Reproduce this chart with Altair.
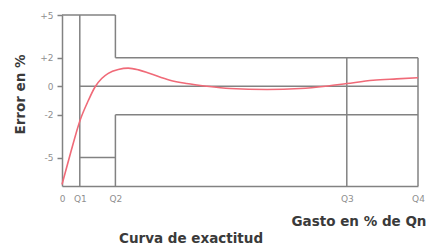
import altair as alt
import pandas as pd

# Accuracy curve (x in % of Qn-scale units: Q1=5, Q2=15, Q3=80, Q4=100)
curve_x = [0, 2.5, 5.06, 7.4, 9.27, 11.15, 13, 15.8, 18.6, 21.5, 24.7, 30.3, 35, 40.6, 47.2, 57.6, 66.9, 74, 80, 87.4, 94, 100]
curve_y = [-6.9, -4.6, -2.4, -1.0, -0.05, 0.54, 0.9, 1.17, 1.27, 1.15, 0.89, 0.42, 0.19, 0.0, -0.16, -0.23, -0.16, 0.0, 0.19, 0.42, 0.52, 0.6]

# Tolerance envelope segments
seg_x = [0, 5, 15, 15, 5, 15, 15, 5, 80, 100]
seg_y = [5, 5, 5, 2, 0, -2, -2, -5, 2, 2]
seg_x2 = [15, 5, 15, 100, 100, 100, 15, 15, 80, 100]
seg_y2 = [5, -7, 2, 2, 0, -2, -7, -5, -7, -7]

x_tick_values = [0, 5, 15, 80, 100]
x_tick_labels = ["0", "Q1", "Q2", "Q3", "Q4"]
y_tick_values = [-5, -2, 0, 2, 5]

FONT = "DejaVu Sans"
GRAY = "#828282"

label_expr = "''"
for v, l in zip(reversed(x_tick_values), reversed(x_tick_labels)):
    label_expr = f"datum.value == {v} ? '{l}' : ({label_expr})"

curve_df = pd.DataFrame({"x": curve_x, "y": curve_y})
seg_df = pd.DataFrame({"x": seg_x, "y": seg_y, "x2": seg_x2, "y2": seg_y2})

xscale = alt.Scale(domain=[0, 100], nice=False, zero=False)
yscale = alt.Scale(domain=[-7, 5], nice=False, zero=False)

xaxis = alt.Axis(
    values=x_tick_values, labelExpr=label_expr, grid=False, ticks=False,
    domainColor=GRAY, domainWidth=1.5, labelColor="#8f8f8f", labelFontSize=9,
    labelFont=FONT, labelPadding=12, labelBaseline="middle",
    title="Gasto en % de Qn", titleFont=FONT, titleFontSize=13.5, titleFontWeight="bold",
    titleColor="#3a3a3a", titleX=364, titleY=35, titleAlign="right", titleBaseline="middle",
    labelFlush=False, labelOverlap=False,
)
yaxis = alt.Axis(
    values=y_tick_values, labelExpr="datum.value > 0 ? '+' + datum.value : '' + datum.value",
    grid=False, tickSize=5, tickColor=GRAY, tickWidth=1.5,
    domainColor=GRAY, domainWidth=1.5, labelColor="#8f8f8f", labelFontSize=9,
    labelFont=FONT, labelPadding=4,
    title="Error en %", titleFont=FONT, titleFontSize=13.5, titleFontWeight="bold",
    titleColor="#3a3a3a", titleX=-42, titleY=79, titleAngle=-90, titleAlign="center",
    titleBaseline="middle", labelFlush=False, labelOverlap=False,
)

segs = alt.Chart(seg_df).mark_rule(color=GRAY, strokeWidth=1.5).encode(
    x=alt.X("x:Q", scale=xscale, axis=xaxis),
    y=alt.Y("y:Q", scale=yscale, axis=yaxis),
    x2="x2:Q",
    y2="y2:Q",
)

line = alt.Chart(curve_df).mark_line(color="#f06a78", strokeWidth=1.6, interpolate="monotone").encode(
    x=alt.X("x:Q", scale=xscale),
    y=alt.Y("y:Q", scale=yscale),
)

chart = alt.layer(segs, line).properties(
    width=356, height=171,
    autosize=alt.AutoSizeParams(type="none"),
    padding={"left": 54, "top": 7, "right": 11, "bottom": 58},
    title=alt.TitleParams(
        "Curva de exactitud", orient="bottom", anchor="start", frame="group", dx=57, offset=4,
        font=FONT, fontSize=13.5, fontWeight="bold", color="#3a3a3a", baseline="top",
    ),
).configure_view(stroke=None)

chart.save("out.html", embed_options={"renderer": "svg", "actions": False})
